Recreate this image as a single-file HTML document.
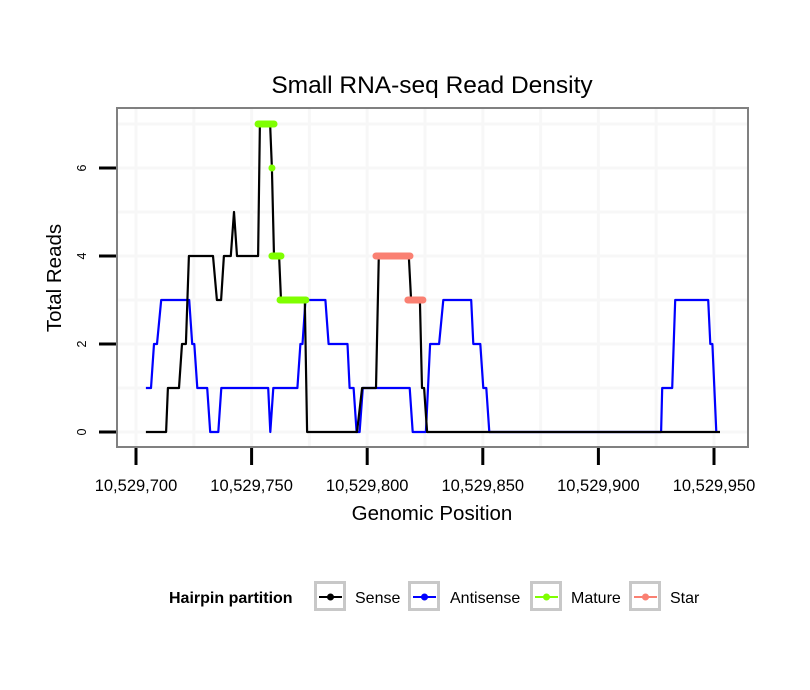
<!DOCTYPE html>
<html><head><meta charset="utf-8"><style>
body{margin:0;background:#fff;}
svg{display:block;font-family:"Liberation Sans",sans-serif;}
</style></head><body>
<svg id="chart" width="810" height="690" viewBox="0 0 810 690"></svg>
<script>
const xTicks=[10529700,10529750,10529800,10529850,10529900,10529950];
const xTickLabels=["10,529,700","10,529,750","10,529,800","10,529,850","10,529,900","10,529,950"];
const yTicks=[0,2,4,6];
const senseX=[704.3,713,713.8,718.6,719.9,721.6,722.9,733.3,735,736.8,738,741,742.4,743.7,752.8,753.6,758,758.8,759.7,761.9,762.7,773,774,795.6,797.8,803.8,805,818,819,822.8,823.7,824.6,825.9,952.6];
const senseY=[0,0,1,1,2,2,4,4,3,3,4,4,5,4,4,7,7,6,4,4,3,3,0,0,1,1,4,4,3,3,1,1,0,0];
const antiX=[704.3,706.5,707.8,709.1,710.9,723,724.3,725.2,726.5,730.8,732.1,735.6,736.9,757.2,758.1,759.4,769.8,771.1,772,773.3,781.9,783.3,791.5,792.4,794.1,795.4,796.7,798.1,818.4,819.7,825.4,827.2,831.1,832.9,845,845.9,848.9,850.2,851.5,852.8,927.1,927.6,931.9,933.2,947.5,948.4,949.3,951];
const antiY=[1,1,2,2,3,3,2,2,1,1,0,0,1,1,0,1,1,2,2,3,3,2,2,1,1,0,0,1,1,0,0,2,2,3,3,2,2,1,1,0,0,1,1,3,3,2,2,0];
const matureSegStart=[752.8,758.8,758.8,762.3];
const matureSegEnd=[759.7,758.8,762.7,773.5];
const matureSegY=[7,6,4,3];
const starSegStart=[803.8,817.6];
const starSegEnd=[818.5,824.1];
const starSegY=[4,3];
const legendLabels=["Sense","Antisense","Mature","Star"];
const legendColors=["#000000","#0000ff","#7fff00","#fa8072"];

const NS="http://www.w3.org/2000/svg";
const svg=document.getElementById('chart');
const L=117,R=748,T=108,B=447;
const BASE=10529000;
function xs(v){ if(v<100000) v=BASE+v; return 136+(v-10529700)*2.312; }
function ys(v){ return 432-v*44; }
function mk(tag,attrs,parent){const e=document.createElementNS(NS,tag);for(const k in attrs)e.setAttribute(k,attrs[k]);(parent||svg).appendChild(e);return e;}

let t=mk('text',{x:432,y:93,'text-anchor':'middle','font-size':24.5,fill:'#000'});t.textContent='Small RNA-seq Read Density';



let p=mk('rect',{x:L,y:T,width:R-L,height:B-T,fill:'#fff'});


for(let v=10529675;v<=10529975;v+=25){const x=xs(v);if(x>L&&x<R){const g=mk('line',{x1:x,x2:x,y1:T,y2:B,stroke:'#f7f7f7','stroke-width':3});

}}
for(let v=0;v<=7;v++){const y=ys(v);const g=mk('line',{x1:L,x2:R,y1:y,y2:y,stroke:'#f7f7f7','stroke-width':3});

}

function poly(xsArr,ysArr,color,name){
  let pts=xsArr.map((x,i)=>xs(x).toFixed(1)+','+ys(ysArr[i]).toFixed(1)).join(' ');
  const e=mk('polyline',{points:pts,fill:'none',stroke:color,'stroke-width':2.2,'stroke-linejoin':'round'});
  
  
}
poly(antiX,antiY,'#0000ff','antisense-line');
poly(senseX,senseY,'#000000','sense-line');
function segs(s,e,yv,color,name){
  for(let i=0;i<s.length;i++){
    const l=mk('line',{x1:xs(s[i]),x2:xs(e[i]),y1:ys(yv[i]),y2:ys(yv[i]),stroke:color,'stroke-width':7,'stroke-linecap':'round'});
    
    
  }
}
segs(matureSegStart,matureSegEnd,matureSegY,'#7fff00','mature-segment');
segs(starSegStart,starSegEnd,starSegY,'#fa8072','star-segment');

let bd=mk('rect',{x:L,y:T,width:R-L,height:B-T,fill:'none',stroke:'#808080','stroke-width':2});



xTicks.forEach((v,i)=>{const x=xs(v);
  const tk=mk('line',{x1:x,x2:x,y1:448,y2:465,stroke:'#000','stroke-width':3});
  
  
  const lb=mk('text',{x:x,y:491,'text-anchor':'middle','font-size':16.5,fill:'#000'});lb.textContent=xTickLabels[i];
  
  
});
yTicks.forEach(v=>{const y=ys(v);
  const tk=mk('line',{x1:99,x2:116,y1:y,y2:y,stroke:'#000','stroke-width':3});
  
  
  const lb=mk('text',{x:0,y:0,'text-anchor':'middle','font-size':12.5,fill:'#000',transform:`translate(86,${y}) rotate(-90)`});lb.textContent=String(v);
  
  
});
let xt=mk('text',{x:432,y:520,'text-anchor':'middle','font-size':20.5,fill:'#000'});xt.textContent='Genomic Position';


let yt=mk('text',{x:0,y:0,'text-anchor':'middle','font-size':20.5,fill:'#000',transform:'translate(61,278) rotate(-90)'});yt.textContent='Total Reads';



let lt=mk('text',{x:169,y:603,'font-size':16,'font-weight':'bold',fill:'#000'});lt.textContent='Hairpin partition';


const boxX=[314,408,530,629];
const labX=[355,450,571,670];
legendLabels.forEach((lab,i)=>{
  const g=mk('g',{});
  
  
  mk('rect',{x:boxX[i]+1.5,y:582.5,width:29,height:27,fill:'#fff',stroke:'#c8c8c8','stroke-width':3},g);
  mk('line',{x1:boxX[i]+5,x2:boxX[i]+28,y1:597,y2:597,stroke:legendColors[i],'stroke-width':2},g);
  mk('circle',{cx:boxX[i]+16.5,cy:597,r:3.5,fill:legendColors[i]},g);
  const tx=mk('text',{x:labX[i],y:603,'font-size':16,fill:'#000'},g);tx.textContent=lab;
});
</script>
</body></html>
